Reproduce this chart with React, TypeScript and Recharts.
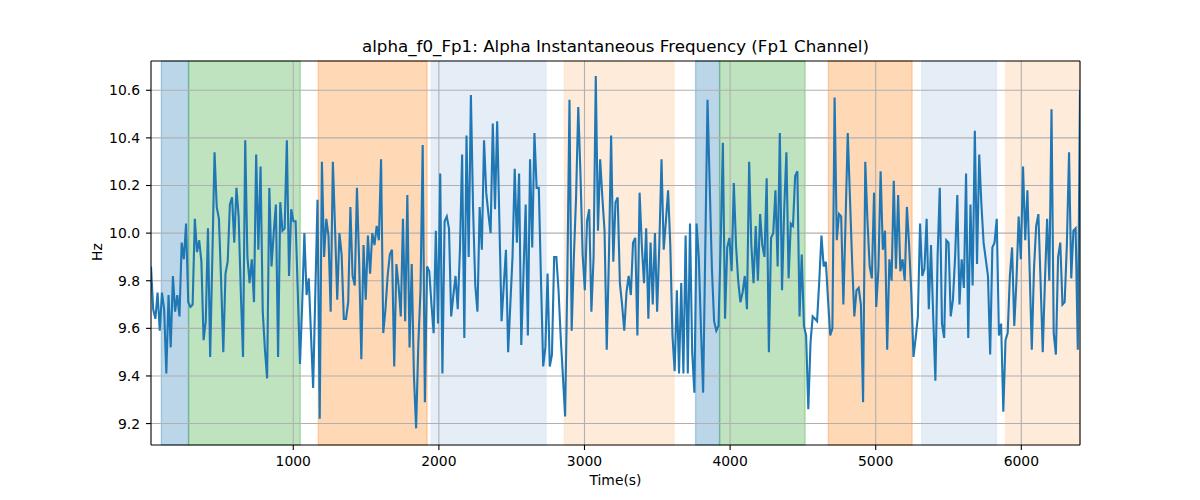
import React from 'react';
import { LineChart, Line, XAxis, YAxis, ReferenceArea, ReferenceLine } from 'recharts';

// time axis limits (s) and value axis limits (Hz)
const T_START = 23;
const T_END = 6403;
const Y_MIN = 9.11;
const Y_MAX = 10.723;

// alpha instantaneous frequency, read left to right
const hzPart1 = [
  9.86, 9.68, 9.64, 9.75, 9.59, 9.75, 9.68, 9.41, 9.74, 9.52, 9.82, 9.67, 9.74, 9.65, 9.96, 9.89,
  10.04, 9.71, 9.69, 9.7, 10.06, 9.92, 9.97, 9.88, 9.55, 9.63, 10.02, 9.48, 9.9, 10.34, 10.11, 10.06,
  9.8, 9.5, 9.83, 9.88, 10.12, 10.15, 9.96, 10.19, 10.07, 9.75, 9.48, 10.39, 9.9, 9.79, 9.89, 9.71,
  10.33, 9.93, 10.28, 9.67, 9.51, 9.39, 10.19, 9.86, 10.0, 10.12, 9.48, 10.13, 10.01, 10.02, 10.39,
  9.82, 10.1, 10.05, 10.05, 9.75, 9.45, 9.7, 10.0,
];
const hzPart2 = [
  9.74, 9.81, 9.58, 9.35, 9.75, 10.14, 9.22, 10.3, 9.9, 10.06, 9.99, 9.67, 10.3, 10.02, 9.72, 10.0,
  9.91, 9.64, 9.64, 9.71, 10.11, 9.82, 9.78, 10.19, 9.88, 9.47, 9.95, 9.72, 9.99, 9.83, 10.0, 9.95,
  10.03, 9.97, 10.31, 9.58, 9.68, 9.82, 9.91, 9.93, 9.44, 9.87, 9.78, 9.65, 10.06, 9.63, 10.16, 9.52,
  9.87, 9.4, 9.18, 9.53, 9.76, 10.37, 9.29, 9.86, 9.84, 9.7, 9.58, 10.01, 9.62, 10.25, 9.41, 10.05,
  10.07, 10.02, 9.65, 9.74, 9.82, 9.68,
];
const hzPart3 = [
  9.93, 10.33, 9.56, 10.41, 9.9, 10.58, 10.1, 9.78, 9.67, 10.11, 9.93, 10.39, 10.17, 10.08, 10.0,
  10.46, 10.1, 10.47, 10.05, 9.63, 9.78, 9.93, 9.5, 9.7, 9.9, 10.27, 9.96, 10.25, 9.53, 9.83, 10.12,
  9.57, 10.31, 9.94, 10.42, 10.19, 10.19, 9.8, 9.44, 9.52, 9.83, 9.44, 9.49, 9.9, 9.9, 9.76, 9.56,
  9.4, 9.23, 9.8, 10.56, 9.59, 9.9, 10.15, 10.53, 10.25, 9.91, 9.76, 10.05, 10.1, 9.67, 9.9, 10.66,
  10.01, 10.31, 10.15, 10.01, 9.51, 9.9, 10.41, 9.88,
];
const hzPart4 = [
  10.13, 10.15, 9.79, 9.7, 9.59, 9.75, 9.82, 9.74, 9.96, 9.98, 9.57, 10.17, 9.95, 9.79, 10.02, 9.64,
  9.96, 9.7, 10.0, 9.67, 9.95, 10.31, 9.93, 10.05, 10.18, 9.95, 9.57, 9.42, 9.76, 9.41, 9.79, 9.41,
  9.99, 9.41, 10.04, 9.5, 9.33, 10.04, 9.9, 9.6, 9.33, 9.95, 10.56, 10.2, 9.85, 9.63, 9.59, 9.61,
  9.95, 10.38, 9.64, 9.94, 9.98, 9.84, 10.21, 9.95, 9.8, 9.71, 9.75, 9.82, 9.68, 10.3, 9.95, 9.79,
  10.03, 9.8, 10.08, 9.95, 9.9, 10.23, 9.5,
];
const hzPart5 = [
  9.98, 10.0, 10.18, 9.86, 10.42, 9.76, 10.1, 10.34, 9.81, 10.04, 10.03, 10.24, 10.26, 9.65, 9.91,
  9.61, 9.57, 9.26, 9.54, 9.65, 9.64, 9.63, 9.8, 9.99, 9.86, 9.88, 9.72, 9.57, 9.6, 10.57, 9.97,
  10.08, 10.07, 9.7, 10.05, 10.42, 10.15, 9.88, 9.65, 9.76, 9.77, 9.7, 9.29, 10.3, 10.05, 9.86, 9.81,
  10.17, 9.69, 9.85, 10.26, 9.93, 10.01, 9.51, 9.89, 9.8, 10.22, 9.85, 10.16, 9.84, 9.89, 9.8, 10.11,
  9.95, 9.75, 9.48, 9.56, 9.65, 10.04, 9.82, 9.85,
];
const hzPart6 = [
  10.06, 9.68, 9.95, 9.65, 9.38, 9.9, 10.19, 9.62, 9.56, 9.97, 9.96, 9.65, 9.72, 9.9, 10.16, 9.7,
  9.89, 9.77, 10.25, 9.56, 10.12, 9.78, 10.43, 9.87, 10.33, 10.12, 9.96, 9.89, 9.82, 9.49, 9.94,
  9.96, 10.06, 9.57, 9.62, 9.25, 9.55, 9.58, 9.82, 9.94, 9.61, 9.8, 10.07, 9.89, 10.28, 9.97, 10.18,
  9.85, 9.51, 9.85, 10.03, 10.08, 9.8, 9.5, 9.8, 10.06, 9.8, 10.52, 9.58, 9.49, 9.9, 9.96, 9.7, 9.71,
  9.95, 10.34, 9.81, 10.01, 10.02, 9.51, 10.6,
];

// shaded segments
const spanStart = [94, 281, 1172, 1948, 2862, 3763, 3928, 4675, 5316, 5892];
const spanEnd = [281, 1048, 1919, 2736, 3615, 3928, 4515, 5250, 5829, 6403];
const spanColor = ['#1f77b4', '#2ca02c', '#ff7f0e', '#dfe8f5', '#ffe6d1', '#1f77b4', '#2ca02c', '#ff7f0e', '#dfe8f5', '#ffe6d1'];
const spanAlpha = [0.3, 0.3, 0.3, 0.8, 0.8, 0.3, 0.3, 0.3, 0.8, 0.8];

const xTicks = [1000, 2000, 3000, 4000, 5000, 6000];
const yTicks = [9.2, 9.4, 9.6, 9.8, 10.0, 10.2, 10.4, 10.6];

const hz = [...hzPart1, ...hzPart2, ...hzPart3, ...hzPart4, ...hzPart5, ...hzPart6];
const data = hz.map((v, i) => ({
  t: T_START + (i * (T_END - T_START)) / (hz.length - 1),
  hz: v,
}));

const font = 'DejaVu Sans, sans-serif';
const tickStyle = { fill: '#000', fontSize: 13.9, fontFamily: font };

const App = () => {
  return (
    <div style={{ position: 'absolute', left: 0, top: 0, width: 1200, height: 500, background: '#fff' }}>
      <LineChart width={1200} height={500} data={data} margin={{ top: 61, right: 120, bottom: 0, left: 0 }}>
        <XAxis
          dataKey="t"
          type="number"
          domain={[T_START, T_END]}
          ticks={xTicks}
          allowDataOverflow
          height={55}
          tickSize={5}
          tickMargin={6}
          tick={tickStyle}
          axisLine={{ stroke: '#000', strokeWidth: 1.1 }}
          tickLine={{ stroke: '#000', strokeWidth: 1.1 }}
        />
        <YAxis
          type="number"
          domain={[Y_MIN, Y_MAX]}
          ticks={yTicks}
          allowDataOverflow
          width={151}
          tickSize={5}
          tickMargin={6}
          tick={tickStyle}
          tickFormatter={(v) => v.toFixed(1)}
          axisLine={{ stroke: '#000', strokeWidth: 1.1 }}
          tickLine={{ stroke: '#000', strokeWidth: 1.1 }}
        />
        {spanStart.map((s, i) => (
          <ReferenceArea
            key={'span' + i}
            x1={s}
            x2={spanEnd[i]}
            fill={spanColor[i]}
            fillOpacity={spanAlpha[i]}
            stroke={spanColor[i]}
            strokeOpacity={spanAlpha[i]}
            strokeWidth={1.4}
          />
        ))}
        {xTicks.map((t) => (
          <ReferenceLine key={'gx' + t} x={t} stroke="#b0b0b0" strokeWidth={1.1} />
        ))}
        {yTicks.map((t) => (
          <ReferenceLine key={'gy' + t} y={t} stroke="#b0b0b0" strokeWidth={1.1} />
        ))}
        <Line
          type="linear"
          dataKey="hz"
          stroke="#1f77b4"
          strokeWidth={2.1}
          dot={false}
          isAnimationActive={false}
        />
        <ReferenceLine y={Y_MAX} stroke="#000" strokeWidth={1.1} />
        <ReferenceLine x={T_END} stroke="#000" strokeWidth={1.1} />
      </LineChart>
      <div
        style={{
          position: 'absolute', left: 151, width: 929, top: 37, textAlign: 'center',
          fontFamily: font, fontSize: 16.7, lineHeight: '18px', color: '#000',
        }}
      >
        alpha_f0_Fp1: Alpha Instantaneous Frequency (Fp1 Channel)
      </div>
      <div
        style={{
          position: 'absolute', left: 151, width: 929, top: 472, textAlign: 'center',
          fontFamily: font, fontSize: 13.9, lineHeight: '16px', color: '#000',
        }}
      >
        Time(s)
      </div>
      <div
        style={{
          position: 'absolute', left: 77, top: 244, width: 40, textAlign: 'center',
          fontFamily: font, fontSize: 13.9, lineHeight: '16px', color: '#000',
          transform: 'rotate(-90deg)',
        }}
      >
        Hz
      </div>
    </div>
  );
};

export default App;
